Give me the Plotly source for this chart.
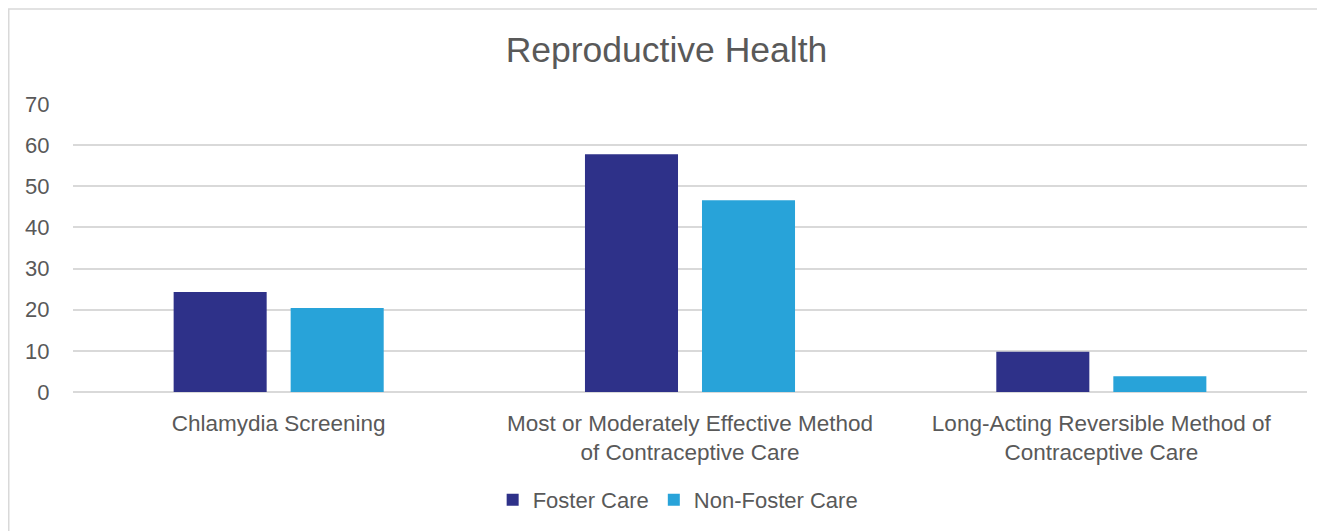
import plotly.graph_objects as go

categories = ["Chlamydia Screening",
              "Most or Moderately Effective Method<br>of Contraceptive Care",
              "Long-Acting Reversible Method of<br>Contraceptive Care"]
foster = [24.3, 57.8, 9.8]
non_foster = [20.4, 46.6, 3.8]
y_ticks = [0, 10, 20, 30, 40, 50, 60, 70]

FONT = "Liberation Sans"
GRAY = "#595959"

fig = go.Figure()
fig.add_trace(go.Bar(name="Foster Care", x=categories, y=foster,
                     marker=dict(color="#2E3189", line=dict(width=0))))
fig.add_trace(go.Bar(name="Non-Foster Care", x=categories, y=non_foster,
                     marker=dict(color="#28A3D9", line=dict(width=0))))

# page body adds an 8px offset, figure sized accordingly
W, H = 1317, 523
L, R, T, B = 65, 18, 96, 138
pw, ph = W - L - R, H - T - B

fig.update_layout(
    width=W, height=H,
    margin=dict(l=L, r=R, t=T, b=B),
    paper_bgcolor="white", plot_bgcolor="white",
    barmode="group", bargap=0.431, bargroupgap=0.205,
    font=dict(family=FONT, color=GRAY),
    title=dict(text="Reproductive Health", x=0.5, xanchor="center",
               y=1 - 42 / H, yanchor="middle",
               font=dict(size=35.5, color=GRAY, family=FONT)),
    xaxis=dict(showgrid=False, showline=False, ticks="outside", ticklen=11,
               tickcolor="rgba(0,0,0,0)",
               tickfont=dict(size=22.5, color=GRAY, family=FONT)),
    yaxis=dict(range=[0, 70], tickvals=y_ticks, showgrid=True,
               gridcolor="#D9D9D9", gridwidth=1.5, zeroline=True,
               zerolinecolor="#D9D9D9", zerolinewidth=1.5,
               ticks="outside", ticklen=18, tickcolor="rgba(0,0,0,0)",
               tickfont=dict(size=22, color=GRAY, family=FONT)),
    legend=dict(orientation="h", x=0.49, xanchor="center",
                y=-(492 - (T + ph)) / ph, yanchor="middle",
                font=dict(size=22, color=GRAY, family=FONT),
                itemsizing="constant"),
    shapes=[dict(type="rect", xref="paper", yref="paper",
                 x0=(0.75 - L) / pw, x1=(W + 20 - L) / pw,
                 y0=-(H + 20 - T - ph) / ph, y1=1 + (T - 0.75) / ph,
                 line=dict(color="#D9D9D9", width=1.5), layer="below")],
)

fig.write_html("out.html")
